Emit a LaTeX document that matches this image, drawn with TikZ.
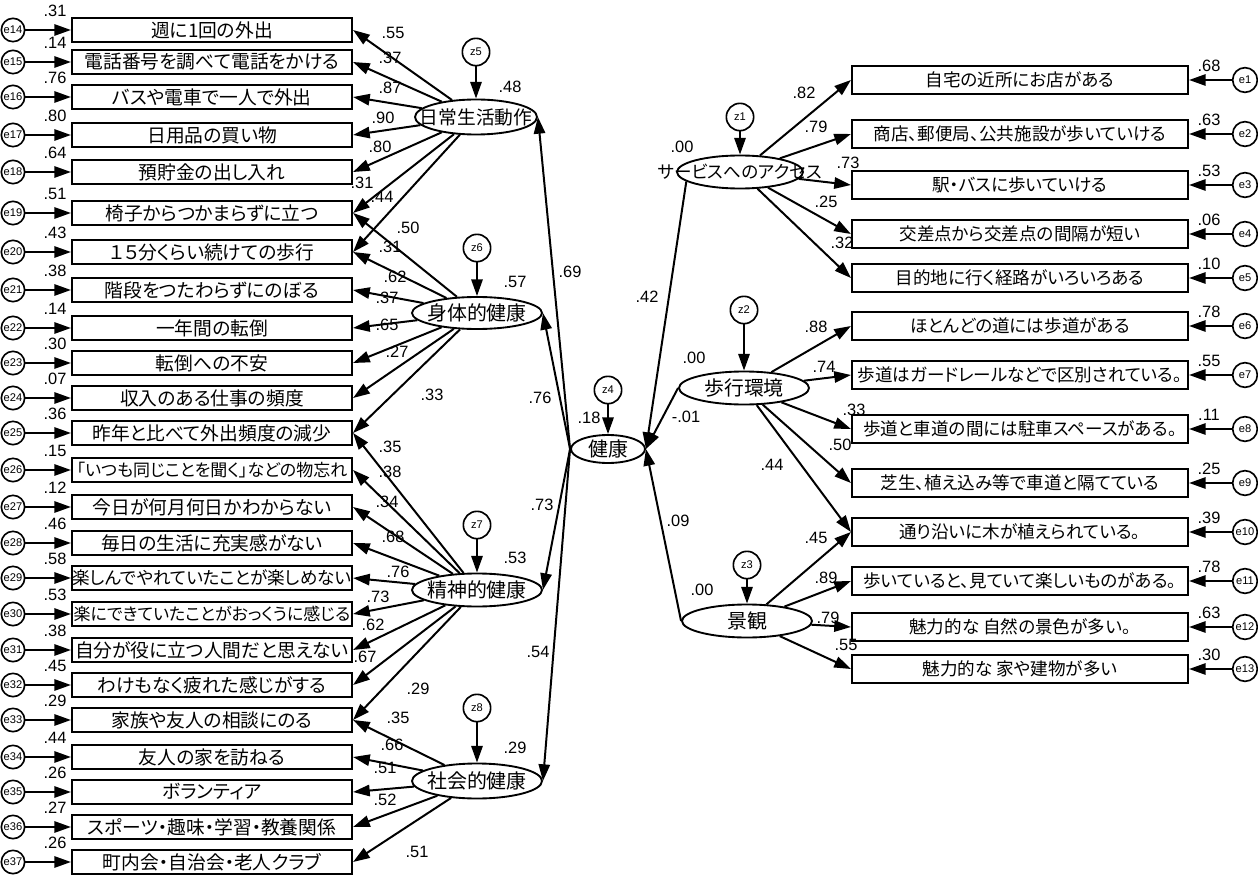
\documentclass[tikz,border=0pt]{standalone}
\usepackage{fontspec}
\setmainfont{Liberation Sans}
\newfontfamily\jp[RawFeature=+palt]{Noto Sans CJK JP}
\usepackage{tikz}
\usetikzlibrary{arrows.meta}
\usetikzlibrary{shapes.geometric}

\tikzset{
	obs/.style={draw,line width=1.8pt,inner sep=0pt,minimum width=8.4cm,minimum height=0.72cm,font=\jp\fontsize{16}{16}\selectfont},
	obsr/.style={obs,minimum width=10.08cm,minimum height=0.84cm,font=\jp\fontsize{15}{15}\selectfont},
	lat/.style={draw,ellipse,line width=1.6pt,inner sep=0pt,minimum width=3.9cm,minimum height=0.99cm,font=\jp\fontsize{17}{17}\selectfont},
	err/.style={draw,circle,line width=1.4pt,inner sep=0pt,minimum size=0.7cm,font=\fontsize{9.5}{9.5}\selectfont},
	coef/.style={inner sep=0pt,font=\fontsize{14}{14}\selectfont},
	link/.style={line width=1.7pt,-{Triangle[length=0.5cm,width=0.34cm]}},
}

\begin{document}
\begin{tikzpicture}[x=0.03cm,y=-0.03cm]
		\useasboundingbox (0,0) rectangle (1258,877);
		% left indicators
		\foreach \i/\y/\rsq/\name in {
				1/30/.31/週に1回の外出,
				2/62/.14/電話番号を調べて電話をかける,
				3/97/.76/バスや電車で一人で外出,
				4/135/.80/日用品の買い物,
				5/172/.64/預貯金の出し入れ,
				6/213/.51/椅子からつかまらずに立つ,
				7/252/.43/１５分くらい続けての歩行,
				8/290/.38/階段をつたわらずにのぼる,
				9/328/.14/一年間の転倒,
				10/363/.30/転倒への不安,
				11/398/.07/収入のある仕事の頻度,
				12/433/.36/昨年と比べて外出頻度の減少,
				13/470/.15/{\fontsize{14.5}{14.5}\selectfont 「いつも同じことを聞く」などの物忘れ},
				14/507/.12/今日が何月何日かわからない,
				15/543/.46/毎日の生活に充実感がない,
				16/578/.58/{\fontsize{15}{15}\selectfont 楽しんでやれていたことが楽しめない},
				17/614/.53/{\fontsize{14.5}{14.5}\selectfont 楽にできていたことがおっくうに感じる},
				18/650/.38/自分が役に立つ人間だと思えない,
				19/685/.45/わけもなく疲れた感じがする,
				20/720/.29/家族や友人の相談にのる,
				21/757/.44/友人の家を訪ねる,
				22/792/.26/ボランティア,
				23/827/.27/スポーツ・趣味・学習・教養関係,
				24/862/.26/町内会・自治会・老人クラブ}{
			\pgfmathtruncatemacro{\e}{\i+13}
			\node[obs] (l\i) at (212,\y) {\makebox[0pt]{\name}};
			\node[err] (el\i) at (13,\y) {e\e};
			\node[coef] (rl\i) at (55,\y-19) {\rsq};
			\draw[link] (el\i) -- (l\i);
		}
		% right indicators
		\foreach \i/\y/\rsq/\name in {
				1/80/.68/自宅の近所にお店がある,
				2/134/.63/商店、郵便局、公共施設が歩いていける,
				3/185/.53/駅・バスに歩いていける,
				4/234/.06/交差点から交差点の間隔が短い,
				5/278/.10/目的地に行く経路がいろいろある,
				6/326/.78/ほとんどの道には歩道がある,
				7/375/.55/歩道はガードレールなどで区別されている。,
				8/429/.11/歩道と車道の間には駐車スペースがある。,
				9/483/.25/芝生、植え込み等で車道と隔てている,
				10/532/.39/通り沿いに木が植えられている。,
				11/581/.78/歩いていると、見ていて楽しいものがある。,
				12/627/.63/魅力的な 自然の景色が多い。,
				13/669/.30/魅力的な 家や建物が多い}{
			\node[obsr] (r\i) at (1020,\y) {\makebox[0pt]{\name}};
			\node[err,minimum size=0.74cm] (er\i) at (1245,\y) {e\i};
			\node[coef] (rr\i) at (1209,\y-14) {\rsq};
			\draw[link] (er\i) -- (r\i);
		}
		% latent variables
		\node[lat,minimum width=3.66cm,minimum height=1.05cm] (adl) at (476,117) {\makebox[0pt]{\fontsize{16}{16}\selectfont 日常生活動作}};
		\node[lat,minimum height=0.96cm] (phys) at (477,313) {\makebox[0pt]{身体的健康}};
		\node[lat] (ment) at (477,590) {\makebox[0pt]{精神的健康}};
		\node[lat,minimum height=1.05cm] (soc) at (477,781) {\makebox[0pt]{社会的健康}};
		\node[lat,minimum width=2.22cm,minimum height=0.84cm] (health) at (608,449) {\makebox[0pt]{健康}};
		\node[lat,minimum width=3.78cm] (acc) at (740,172) {\makebox[0pt]{\fontsize{15}{15}\selectfont サービスへのアクセス}};
		\node[lat] (walk) at (744,388) {\makebox[0pt]{歩行環境}};
		\node[lat] (scen) at (747,621) {\makebox[0pt]{景観}};
		% disturbances
		\foreach \z/\x/\y/\n in {
				z5/476/52/adl,
				z6/477/248/phys,
				z7/477/525/ment,
				z8/477/708/soc,
				z4/608/390/health,
				z1/740/117/acc,
				z2/744/310/walk,
				z3/747/565/scen}{
			\node[err,minimum size=0.82cm] (\z) at (\x,\y) {\z};
			\draw[link] (\z) -- (\n);
		}
		% squared multiple correlations of latents
		\node[coef] (sadl) at (510,87) {.48};
		\node[coef] (sphys) at (515,282) {.57};
		\node[coef] (sment) at (515,558) {.53};
		\node[coef] (ssoc) at (515,748) {.29};
		\node[coef] (shealth) at (589,418) {.18};
		\node[coef] (sacc) at (682,147) {.00};
		\node[coef] (swalk) at (694,358) {.00};
		\node[coef] (sscen) at (702,590) {.00};
		% second order paths
		\foreach \n/\x/\y/\v in {adl/570/272/.69, phys/540/398/.76, ment/542/505/.73, soc/538/652/.54}{
			\draw[link] (health.west) -- (\n.east);
			\node[coef] (w\n) at (\x,\y) {\v};
		}
		\draw[link] (acc.190) -- (health.east);
		\draw[link] (walk.west) -- (health.east);
		\draw[link] (scen.west) -- (health.east);
		\node[coef] (wacc) at (647,297) {.42};
		\node[coef] (wwalk) at (686,417) {-.01};
		\node[coef] (wscen) at (678,521) {.09};
		% loadings, left
		\foreach \b/\x/\y/\v in {1/393/33/.55, 2/390/58/.37, 3/390/88/.87, 4/383/118/.90, 5/380/147/.80, 6/362/183/.31, 7/382/197/.44}{
			\draw[link] (adl) -- (l\b.east);
			\node[coef] (wadl\b) at (\x,\y) {\v};
		}
		\foreach \b/\x/\y/\v in {6/408/228/.50, 7/390/247/.31, 8/395/277/.62, 9/387/298/.37, 10/387/325/.65, 11/397/352/.27, 12/432/395/.33}{
			\draw[link] (phys) -- (l\b.east);
			\node[coef] (wphys\b) at (\x,\y) {\v};
		}
		\foreach \b/\x/\y/\v in {12/390/447/.35, 13/390/472/.38, 14/387/502/.34, 15/393/537/.68, 16/398/572/.76, 17/378/597/.73, 18/373/625/.62, 19/365/657/.67, 20/418/689/.29}{
			\draw[link] (ment) -- (l\b.east);
			\node[coef] (wment\b) at (\x,\y) {\v};
		}
		\foreach \b/\x/\y/\v in {20/398/718/.35, 21/392/745/.66, 22/385/768/.51, 23/385/800/.52, 24/417/852/.51}{
			\draw[link] (soc) -- (l\b.east);
			\node[coef] (wsoc\b) at (\x,\y) {\v};
		}
		% loadings, right
		\foreach \b/\x/\y/\v in {1/804/93/.82, 2/816/127/.79, 3/848/163/.73, 4/826/202/.25, 5/842/243/.32}{
			\draw[link] (acc) -- (r\b.west);
			\node[coef] (wacc\b) at (\x,\y) {\v};
		}
		\foreach \b/\x/\y/\v in {6/816/327/.88, 7/824/367/.74, 8/854/410/.33, 9/840/445/.50, 10/772/465/.44}{
			\draw[link] (walk) -- (r\b.west);
			\node[coef] (wwalk\b) at (\x,\y) {\v};
		}
		\foreach \b/\x/\y/\v in {10/816/538/.45, 11/826/578/.89, 12/828/618/.79, 13/846/645/.55}{
			\draw[link] (scen) -- (r\b.west);
			\node[coef] (wscen\b) at (\x,\y) {\v};
		}
\end{tikzpicture}
\end{document}
